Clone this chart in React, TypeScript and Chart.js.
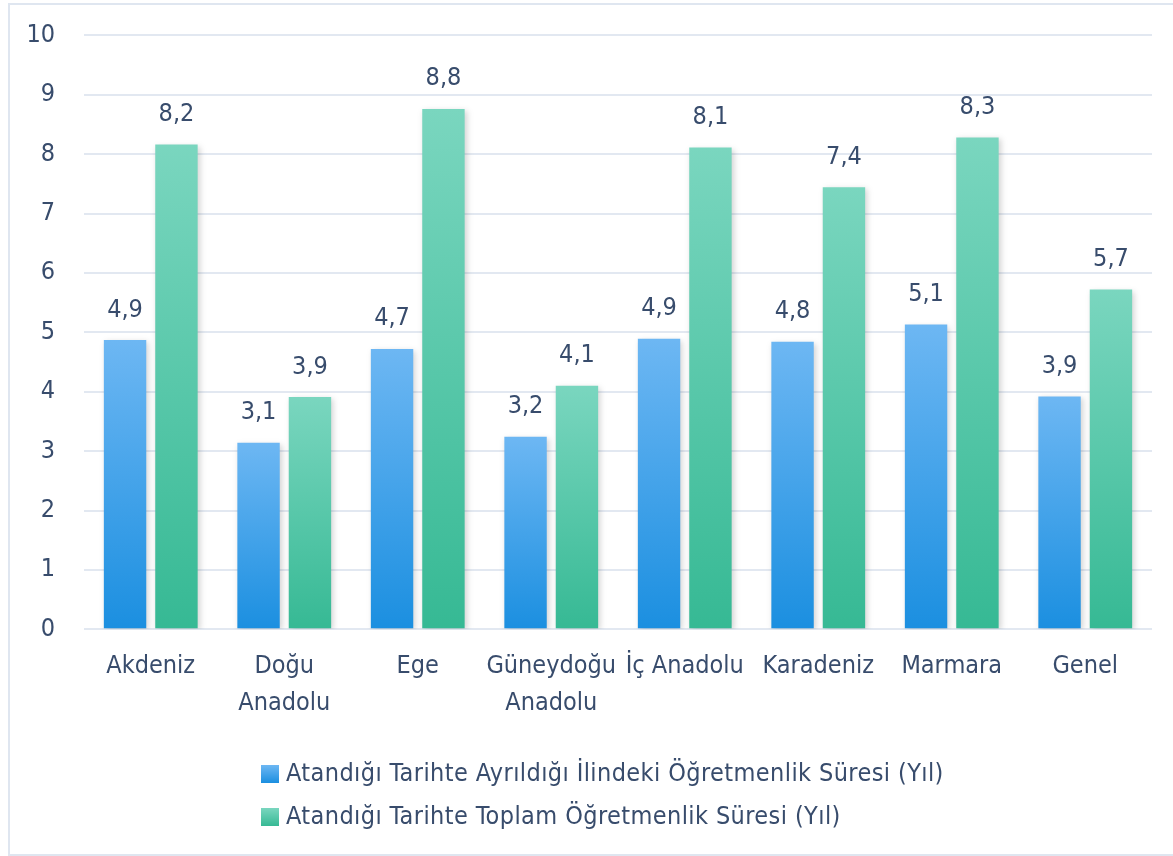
import React, { useEffect, useRef } from "react";
import { Chart, registerables } from "chart.js";

Chart.register(...registerables);

const categories: (string | string[])[] = [
  "Akdeniz",
  ["Doğu", "Anadolu"],
  "Ege",
  ["Güneydoğu", "Anadolu"],
  "İç Anadolu",
  "Karadeniz",
  "Marmara",
  "Genel",
];
const seriesNames = [
  "Atandığı Tarihte Ayrıldığı İlindeki Öğretmenlik Süresi (Yıl)",
  "Atandığı Tarihte Toplam Öğretmenlik Süresi (Yıl)",
];
const ilSuresi = [4.87, 3.14, 4.72, 3.24, 4.89, 4.84, 5.13, 3.92];
const toplamSure = [8.16, 3.91, 8.76, 4.1, 8.11, 7.44, 8.28, 5.72];
const yTicks = [0, 1, 2, 3, 4, 5, 6, 7, 8, 9, 10];

const FONT = "'DejaVu Sans Condensed', 'DejaVu Sans', sans-serif";
const FSIZE = 25;
const TEXT = "#384c6c";
const GRID = "#e2e8f1";
const BLUE = ["#6db7f3", "#1b8fe0"];
const GREEN = ["#7ad6bf", "#36b994"];

function barGradient(ctx: any, colors: string[]) {
  const chart = ctx.chart;
  const area = chart.chartArea;
  if (!area || ctx.type !== "data") return colors[1];
  const y = chart.scales.y;
  const top = y.getPixelForValue(ctx.raw);
  const bottom = y.getPixelForValue(0);
  const g = chart.ctx.createLinearGradient(0, top, 0, bottom);
  g.addColorStop(0, colors[0]);
  g.addColorStop(1, colors[1]);
  return g;
}

const shadowPlugin = {
  id: "barShadow",
  beforeDatasetsDraw(chart: any) {
    const c = chart.ctx;
    c.save();
    c.shadowColor = "rgba(0,0,0,0.18)";
    c.shadowBlur = 6;
    c.shadowOffsetX = 2;
    c.shadowOffsetY = 2;
  },
  afterDatasetsDraw(chart: any) {
    chart.ctx.restore();
  },
};

const labelPlugin = {
  id: "valueLabels",
  afterDatasetsDraw(chart: any) {
    const c = chart.ctx;
    c.save();
    c.font = `${FSIZE}px ${FONT}`;
    c.fillStyle = TEXT;
    c.textAlign = "center";
    c.textBaseline = "middle";
    chart.data.datasets.forEach((ds: any, di: number) => {
      const meta = chart.getDatasetMeta(di);
      meta.data.forEach((bar: any, i: number) => {
        const v = ds.data[i] as number;
        c.fillText(v.toFixed(1).replace(".", ","), bar.x, bar.y - 30);
      });
    });
    c.restore();
  },
};

const legendPlugin = {
  id: "customLegend",
  afterDraw(chart: any) {
    const c = chart.ctx;
    c.save();
    c.font = `${FSIZE}px ${FONT}`;
    c.textAlign = "left";
    c.textBaseline = "middle";
    try {
      (c as any).letterSpacing = "0.4px";
    } catch (e) {}
    const x = 251;
    const ys = [769, 812];
    const cols = [BLUE, GREEN];
    seriesNames.forEach((name, i) => {
      const y = ys[i];
      const g = c.createLinearGradient(0, y - 9, 0, y + 9);
      g.addColorStop(0, cols[i][0]);
      g.addColorStop(1, cols[i][1]);
      c.fillStyle = g;
      c.fillRect(x, y - 9, 18, 18);
      c.fillStyle = TEXT;
      c.fillText(name, x + 25, y);
    });
    c.restore();
  },
};

export default function App() {
  const ref = useRef<HTMLCanvasElement | null>(null);
  useEffect(() => {
    if (!ref.current) return;
    const chart = new Chart(ref.current, {
      type: "bar",
      data: {
        labels: categories as any,
        datasets: [
          {
            label: seriesNames[0],
            data: ilSuresi,
            backgroundColor: (ctx: any) => barGradient(ctx, BLUE),
            categoryPercentage: 0.77,
            barPercentage: 0.825,
          },
          {
            label: seriesNames[1],
            data: toplamSure,
            backgroundColor: (ctx: any) => barGradient(ctx, GREEN),
            categoryPercentage: 0.77,
            barPercentage: 0.825,
          },
        ],
      },
      options: {
        responsive: false,
        animation: false,
        devicePixelRatio: 1,
        layout: { padding: { left: 0, top: 30.3, right: 21, bottom: 124.7 } },
        plugins: { legend: { display: false }, tooltip: { enabled: false } },
        scales: {
          x: {
            grid: { display: false, drawTicks: false },
            border: { display: false },
            ticks: {
              color: TEXT,
              font: { family: FONT, size: FSIZE, lineHeight: 1.47 },
              padding: 19,
              maxRotation: 0,
              autoSkip: false,
            },
            afterFit: (s: any) => {
              s.height = 100;
              s.paddingLeft = 0;
              s.paddingRight = 0;
            },
          },
          y: {
            min: 0,
            max: 10,
            grid: { color: GRID, lineWidth: 2, drawTicks: false },
            border: { display: false },
            afterBuildTicks: (s: any) => {
              s.ticks = yTicks.map((v) => ({ value: v }));
            },
            ticks: {
              color: TEXT,
              font: { family: FONT, size: FSIZE },
              padding: 29,
            },
            afterFit: (s: any) => {
              s.width = 74;
              s.paddingTop = 0;
              s.paddingBottom = 0;
            },
          },
        },
      },
      plugins: [shadowPlugin, labelPlugin, legendPlugin],
    });
    return () => chart.destroy();
  }, []);
  return (
    <div
      style={{
        position: "absolute",
        left: 8,
        top: 3,
        width: 1165,
        height: 853,
        boxSizing: "border-box",
        borderTop: "2px solid #dfe6f0",
        borderLeft: "2px solid #dfe6f0",
        borderBottom: "2px solid #dfe6f0",
        background: "#fff",
      }}
    >
      <canvas ref={ref} width={1163} height={849} style={{ display: "block" }} />
    </div>
  );
}
